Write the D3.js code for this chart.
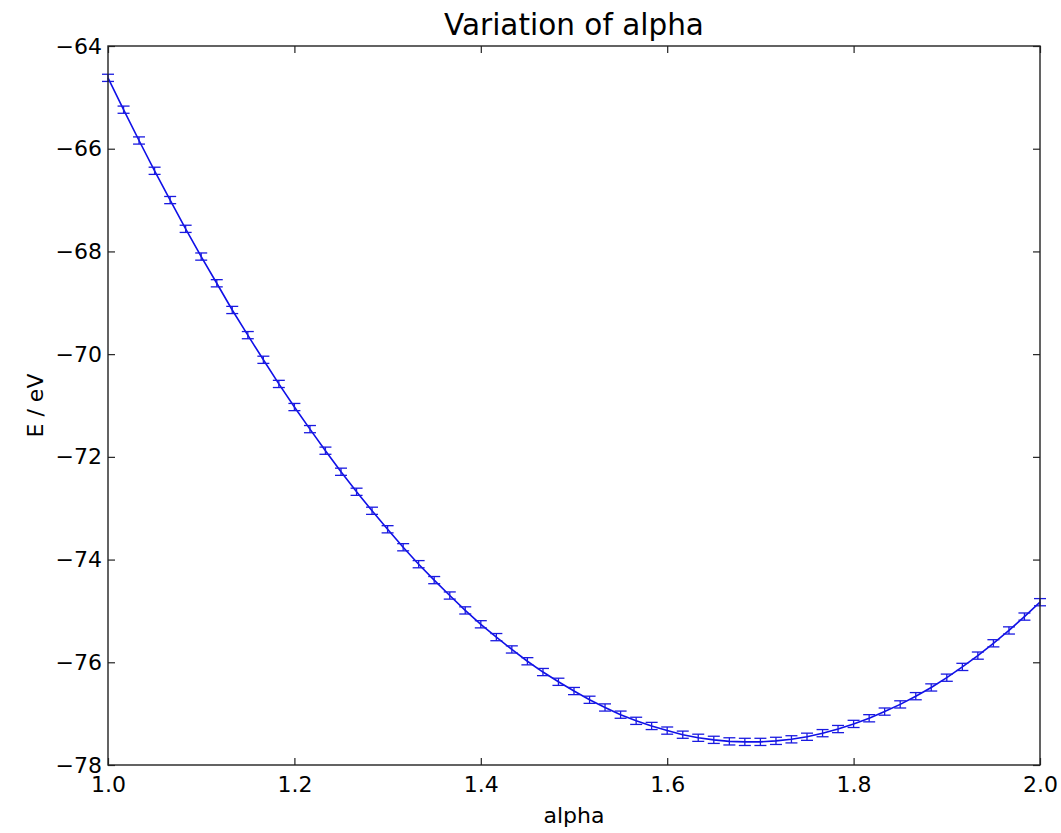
<!DOCTYPE html>
<html>
<head>
<meta charset="utf-8">
<script src="https://cdn.jsdelivr.net/npm/d3@7"></script>
<style>
  body { margin: 0; background: #fff; }
  text { font-family: "DejaVu Sans", sans-serif; fill: #000; }
</style>
</head>
<body>
<svg id="chart" width="1061" height="833"></svg>
<script>
// trial alpha values (61 points from 1.0 to 2.0)
const alphas = [
  1.0000, 1.0167, 1.0333, 1.0500, 1.0667, 1.0833, 1.1000, 1.1167, 1.1333, 1.1500,
  1.1667, 1.1833, 1.2000, 1.2167, 1.2333, 1.2500, 1.2667, 1.2833, 1.3000, 1.3167,
  1.3333, 1.3500, 1.3667, 1.3833, 1.4000, 1.4167, 1.4333, 1.4500, 1.4667, 1.4833,
  1.5000, 1.5167, 1.5333, 1.5500, 1.5667, 1.5833, 1.6000, 1.6167, 1.6333, 1.6500,
  1.6667, 1.6833, 1.7000, 1.7167, 1.7333, 1.7500, 1.7667, 1.7833, 1.8000, 1.8167,
  1.8333, 1.8500, 1.8667, 1.8833, 1.9000, 1.9167, 1.9333, 1.9500, 1.9667, 1.9833,
  2.0000
];

// energies (eV)
const energies = [
  -64.62, -65.24, -65.84, -66.43, -67.00, -67.56, -68.10, -68.62, -69.14, -69.63,
  -70.11, -70.58, -71.03, -71.46, -71.88, -72.29, -72.68, -73.05, -73.41, -73.76,
  -74.09, -74.40, -74.70, -74.99, -75.26, -75.51, -75.75, -75.98, -76.19, -76.38,
  -76.56, -76.73, -76.88, -77.02, -77.14, -77.24, -77.33, -77.41, -77.47, -77.51,
  -77.54, -77.55, -77.55, -77.53, -77.50, -77.45, -77.38, -77.30, -77.20, -77.09,
  -76.96, -76.82, -76.66, -76.49, -76.30, -76.09, -75.87, -75.63, -75.38, -75.11,
  -74.83
];

// statistical error on each energy (eV)
const errors = [
  0.07, 0.07, 0.07, 0.07, 0.07, 0.07, 0.07, 0.07, 0.07, 0.07,
  0.07, 0.07, 0.07, 0.07, 0.07, 0.07, 0.07, 0.07, 0.07, 0.07,
  0.07, 0.07, 0.07, 0.07, 0.07, 0.07, 0.07, 0.07, 0.07, 0.07,
  0.07, 0.07, 0.07, 0.07, 0.07, 0.07, 0.07, 0.07, 0.07, 0.07,
  0.07, 0.07, 0.07, 0.07, 0.07, 0.07, 0.07, 0.07, 0.07, 0.07,
  0.07, 0.07, 0.07, 0.07, 0.07, 0.07, 0.07, 0.07, 0.07, 0.07,
  0.07
];

const xTicks = [1.0, 1.2, 1.4, 1.6, 1.8, 2.0];
const yTicks = [-78, -76, -74, -72, -70, -68, -66, -64];

const data = alphas.map((a, i) => ({ a: a, e: energies[i], err: errors[i] }));

const m = { left: 108, right: 1040, top: 46, bottom: 765 };
const svg = d3.select("#chart");

const x = d3.scaleLinear().domain([1.0, 2.0]).range([m.left, m.right]);
const y = d3.scaleLinear().domain([-78, -64]).range([m.bottom, m.top]);

const plot = svg.append("g");

// curve
const line = d3.line().x(d => x(d.a)).y(d => y(d.e));
plot.append("path")
  .datum(data)
  .attr("d", line)
  .attr("fill", "none")
  .attr("stroke", "#1010e8")
  .attr("stroke-width", 1.6);

// error bars
const cap = 6;
const eb = plot.selectAll("g.eb")
  .data(data)
  .enter()
  .append("g")
  .attr("class", "eb")
  .attr("stroke", "#1a1ae0")
  .attr("stroke-width", 1.3);

eb.append("line")
  .attr("x1", d => x(d.a)).attr("x2", d => x(d.a))
  .attr("y1", d => y(d.e - d.err)).attr("y2", d => y(d.e + d.err));
eb.append("line")
  .attr("x1", d => x(d.a) - cap).attr("x2", d => x(d.a) + cap)
  .attr("y1", d => y(d.e - d.err)).attr("y2", d => y(d.e - d.err));
eb.append("line")
  .attr("x1", d => x(d.a) - cap).attr("x2", d => x(d.a) + cap)
  .attr("y1", d => y(d.e + d.err)).attr("y2", d => y(d.e + d.err));

// axes, ticks pointing inwards like classic matplotlib
const tickLen = 7;
const xAxis = d3.axisBottom(x).tickValues(xTicks).tickFormat(d3.format(".1f"))
  .tickSizeInner(-tickLen).tickSizeOuter(0).tickPadding(11);
const yAxis = d3.axisLeft(y).tickValues(yTicks).tickFormat(d3.format("d"))
  .tickSizeInner(-tickLen).tickSizeOuter(0).tickPadding(6);

const gx = svg.append("g").attr("transform", `translate(0,${m.bottom})`).call(xAxis);
const gy = svg.append("g").attr("transform", `translate(${m.left},0)`).call(yAxis);
const gxTop = svg.append("g").attr("transform", `translate(0,${m.top})`)
  .call(d3.axisTop(x).tickValues(xTicks).tickSizeInner(-tickLen).tickSizeOuter(0).tickFormat(""));
const gyRight = svg.append("g").attr("transform", `translate(${m.right},0)`)
  .call(d3.axisRight(y).tickValues(yTicks).tickSizeInner(-tickLen).tickSizeOuter(0).tickFormat(""));

[gx, gy, gxTop, gyRight].forEach(g => {
  g.select(".domain").remove();
  g.selectAll(".tick line").attr("stroke", "#222").attr("stroke-width", 1.2);
  g.selectAll(".tick text")
    .attr("font-family", "DejaVu Sans, sans-serif")
    .attr("font-size", 22)
    .attr("fill", "#000");
});

// frame
svg.append("rect")
  .attr("x", m.left).attr("y", m.top)
  .attr("width", m.right - m.left).attr("height", m.bottom - m.top)
  .attr("fill", "none")
  .attr("stroke", "#222")
  .attr("stroke-width", 1.4);

// title and labels
svg.append("text")
  .attr("x", (m.left + m.right) / 2).attr("y", 35)
  .attr("text-anchor", "middle")
  .attr("font-size", 29.5)
  .text("Variation of alpha");

svg.append("text")
  .attr("x", (m.left + m.right) / 2).attr("y", 823)
  .attr("text-anchor", "middle")
  .attr("font-size", 22)
  .text("alpha");

svg.append("text")
  .attr("transform", `translate(43,${(m.top + m.bottom) / 2}) rotate(-90)`)
  .attr("text-anchor", "middle")
  .attr("font-size", 22)
  .text("E / eV");
</script>
</body>
</html>
